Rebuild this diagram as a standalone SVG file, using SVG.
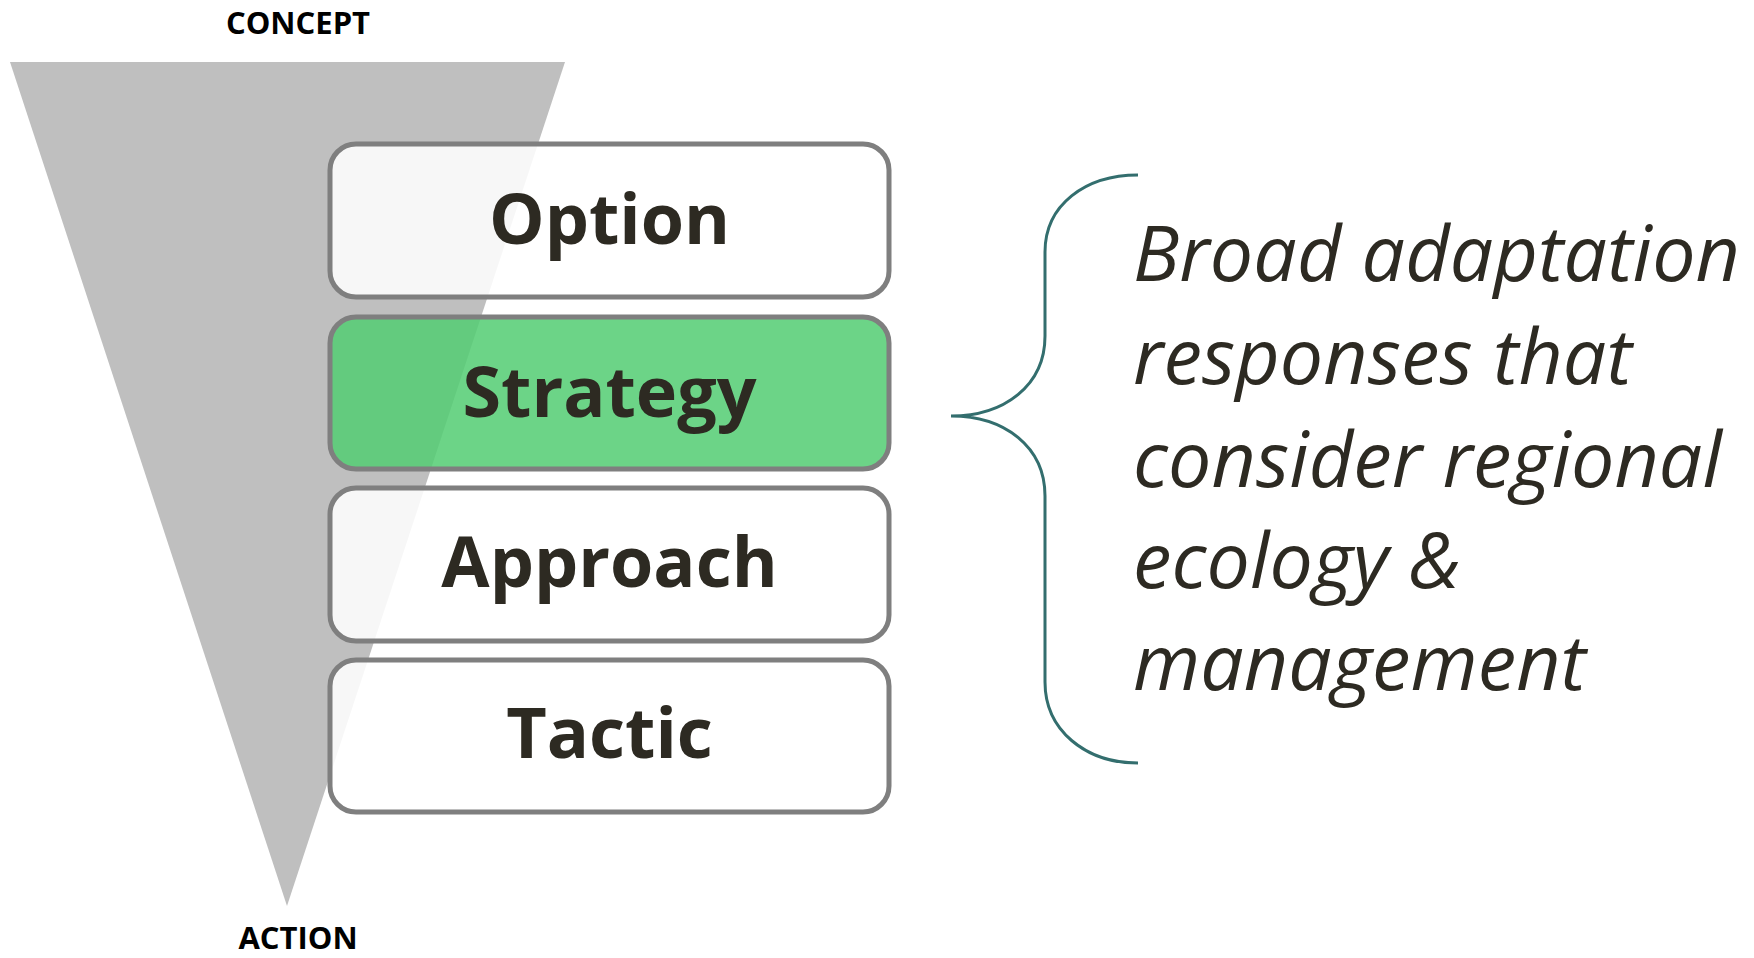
<svg xmlns="http://www.w3.org/2000/svg" width="1754" height="958" viewBox="0 0 1754 958">
<style>
.box{stroke:#7f7f7f;stroke-width:5}
.white{fill:#ffffff;fill-opacity:0.875}
.green{fill:#54cd73;fill-opacity:0.86}
.lbl{font-family:"Open Sans","Noto Sans",sans-serif;font-weight:bold;font-size:70px;fill:#2d2a22;text-anchor:middle}
.axis{font-family:"Open Sans","Noto Sans",sans-serif;font-weight:bold;font-size:31px;fill:#000;text-anchor:middle}
.desc{font-family:"Open Sans","Noto Sans",sans-serif;font-style:italic;font-size:77px;letter-spacing:0.1px;fill:#2d2a22}
</style>
<rect width="1754" height="958" fill="#ffffff"/>
<g id="funnel">
<polygon points="10,62 565,62 287,906" fill="#bfbfbf"/>
<text class="axis" x="298" y="34">CONCEPT</text>
<text class="axis" x="298" y="949">ACTION</text>
</g>
<g id="option">
<rect class="box white" x="330" y="144" width="559" height="153" rx="26"/>
<text class="lbl" x="609.5" y="244">Option</text>
</g>
<g id="strategy">
<rect class="box green" x="330" y="317" width="559" height="152" rx="26"/>
<text class="lbl" x="609.5" y="417">Strategy</text>
</g>
<g id="approach">
<rect class="box white" x="330" y="488" width="559" height="153" rx="26"/>
<text class="lbl" x="609.5" y="587">Approach</text>
</g>
<g id="tactic">
<rect class="box white" x="330" y="660" width="559" height="152" rx="26"/>
<text class="lbl" x="609.5" y="758">Tactic</text>
</g>
<g id="connectors">
<path d="M1138,175 C1085,175 1045,205 1045,252 L1045,336 C1045,385 1005,416 951,416 C1005,416 1045,447 1045,496 L1045,682 C1045,730 1085,763 1138,763" fill="none" stroke="#336e6e" stroke-width="3"/>
</g>
<g id="description">
<text class="desc" x="1133" y="281">Broad adaptation</text>
<text class="desc" x="1133" y="384">responses that</text>
<text class="desc" x="1133" y="487">consider regional</text>
<text class="desc" x="1133" y="588">ecology &amp;</text>
<text class="desc" x="1133" y="690">management</text>
</g>
</svg>
